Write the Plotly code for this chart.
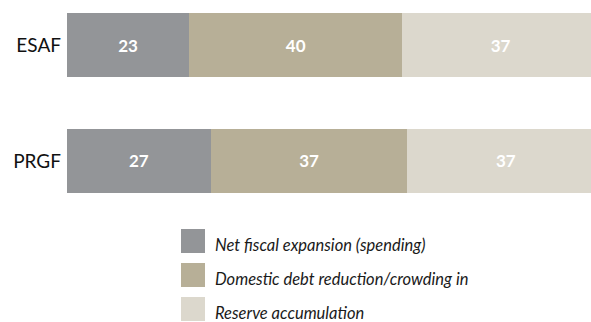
import plotly.graph_objects as go

# Programme categories (top to bottom) and the share of aid absorbed by each use
programs = ["ESAF", "PRGF"]
series_names = [
    "Net fiscal expansion (spending)",
    "Domestic debt reduction/crowding in",
    "Reserve accumulation",
]
net_fiscal = [23, 27]
debt_reduction = [40, 37]
reserve_accum = [37, 37]

colors = ["#939598", "#b7af97", "#dcd8cd"]
values = [net_fiscal, debt_reduction, reserve_accum]

W, H = 591, 322
ML, MR, MT, MB = 67, 0, 13, 129
PW, PH = W - ML - MR, H - MT - MB

FONT = "Lato"

fig = go.Figure()
for name, vals, col in zip(series_names, values, colors):
    fig.add_trace(go.Bar(
        y=programs, x=vals, name=name, orientation="h",
        marker=dict(color=col, line=dict(width=0)),
        text=[str(v) for v in vals],
        textposition="inside", insidetextanchor="middle", textangle=0,
        constraintext="none",
        textfont=dict(family=FONT, size=17, color="white", weight="bold"),
        showlegend=False,
    ))


def px_x(x):
    return (x - ML) / PW


def px_y(y):
    return (H - MB - y) / PH


# Legend: swatch squares with italic labels beneath the bars
shapes, annotations = [], []
for i, (name, col) in enumerate(zip(series_names, colors)):
    top = 229 + 34 * i
    shapes.append(dict(
        type="rect", xref="paper", yref="paper",
        x0=px_x(181), x1=px_x(205), y0=px_y(top + 24), y1=px_y(top),
        fillcolor=col, line=dict(width=0),
    ))
    annotations.append(dict(
        xref="paper", yref="paper", x=px_x(213), y=px_y(top + 16),
        xanchor="left", yanchor="middle", showarrow=False, text=name,
        font=dict(family=FONT, size=16.5, color="#1a1a1a", style="italic"),
    ))

fig.update_layout(
    width=W, height=H,
    margin=dict(l=ML, r=MR, t=MT, b=MB, pad=0),
    barmode="stack", bargap=0.446,
    plot_bgcolor="white", paper_bgcolor="white",
    xaxis=dict(range=[0, 98.5], visible=False, fixedrange=True),
    yaxis=dict(
        categoryorder="array", categoryarray=programs[::-1],
        range=[-0.277, 1.277], showgrid=False, zeroline=False,
        showline=False, ticks="", ticklabelstandoff=5,
        tickfont=dict(family=FONT, size=19, color="#111111"),
    ),
    shapes=shapes, annotations=annotations,
    font=dict(family=FONT),
)

fig.write_html("out.html")
